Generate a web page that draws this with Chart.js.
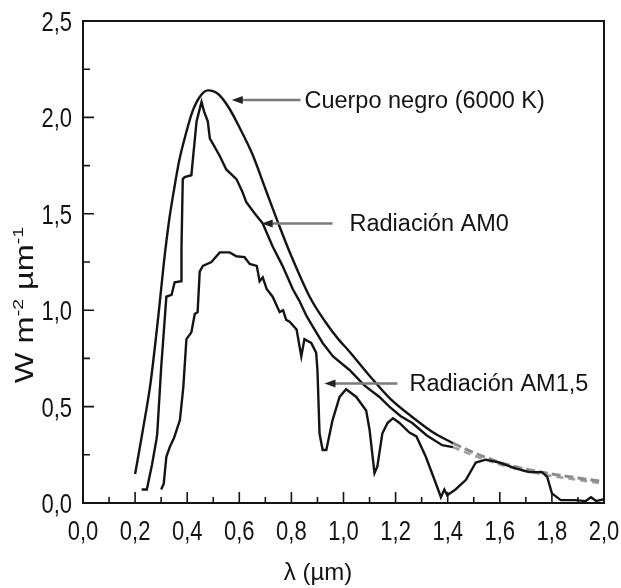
<!DOCTYPE html>
<html>
<head>
<meta charset="utf-8">
<script src="https://cdn.jsdelivr.net/npm/chart.js@4.4.0/dist/chart.umd.min.js"></script>
<style>
  html, body { margin: 0; padding: 0; background: #fff; }
  #wrap { width: 621px; height: 588px; }
</style>
</head>
<body>
<div id="wrap"><canvas id="spectrum"></canvas></div>
<script>
// cuerpo negro 6000 K (tramo continuo)
var bbX = [0.20, 0.23, 0.26, 0.29, 0.31, 0.33, 0.35, 0.37, 0.39, 0.42, 0.45, 0.48, 0.52, 0.56, 0.60, 0.65, 0.70, 0.75, 0.80, 0.87, 0.93, 0.98, 1.02, 1.10, 1.18, 1.26, 1.34, 1.42];
var bbY = [0.15, 0.38, 0.63, 0.98, 1.24, 1.46, 1.63, 1.78, 1.89, 2.03, 2.11, 2.14, 2.12, 2.05, 1.95, 1.81, 1.63, 1.45, 1.28, 1.07, 0.94, 0.85, 0.79, 0.66, 0.54, 0.45, 0.37, 0.31];
// tramo gris discontinuo
var tailX = [1.42, 1.50, 1.60, 1.70, 1.80, 1.90, 2.00];
var tailBB = [0.31, 0.26, 0.21, 0.175, 0.15, 0.13, 0.11];
var tailAM0 = [0.29, 0.245, 0.20, 0.165, 0.14, 0.12, 0.10];

// radiacion AM0
var am0X = [0.225, 0.245, 0.265, 0.282, 0.285, 0.30, 0.32, 0.34, 0.352, 0.378, 0.378, 0.383, 0.39, 0.416, 0.436, 0.455, 0.465, 0.479, 0.487, 0.50, 0.525, 0.55, 0.589, 0.61, 0.627, 0.66, 0.69, 0.728, 0.766, 0.805, 0.83, 0.858, 0.88, 0.92, 0.96, 1.023, 1.08, 1.138, 1.176, 1.22, 1.264, 1.32, 1.379, 1.42];
var am0Y = [0.07, 0.07, 0.20, 0.33, 0.36, 0.70, 1.07, 1.08, 1.145, 1.15, 1.32, 1.68, 1.69, 1.70, 1.98, 2.08, 2.03, 1.98, 1.89, 1.86, 1.80, 1.73, 1.68, 1.62, 1.56, 1.50, 1.45, 1.33, 1.23, 1.11, 1.05, 0.97, 0.92, 0.83, 0.76, 0.69, 0.61, 0.55, 0.50, 0.45, 0.415, 0.35, 0.30, 0.29];

// radiacion AM1,5
var am15X = [0.30, 0.31, 0.32, 0.333, 0.35, 0.372, 0.385, 0.397, 0.416, 0.429, 0.44, 0.448, 0.46, 0.493, 0.525, 0.563, 0.589, 0.62, 0.64, 0.667, 0.678, 0.69, 0.705, 0.728, 0.755, 0.768, 0.78, 0.793, 0.82, 0.838, 0.85, 0.876, 0.895, 0.90, 0.908, 0.92, 0.934, 0.958, 0.985, 1.01, 1.049, 1.087, 1.10, 1.119, 1.13, 1.149, 1.169, 1.19, 1.215, 1.253, 1.28, 1.316, 1.355, 1.374, 1.387, 1.398, 1.43, 1.47, 1.508, 1.546, 1.598, 1.66, 1.713, 1.762, 1.782, 1.80, 1.834, 1.89, 1.93, 1.95, 1.97, 2.00];
var am15Y = [0.07, 0.10, 0.24, 0.29, 0.34, 0.43, 0.60, 0.85, 0.885, 0.98, 0.99, 1.20, 1.23, 1.25, 1.30, 1.30, 1.28, 1.275, 1.24, 1.23, 1.15, 1.17, 1.11, 1.07, 0.99, 1.00, 0.95, 0.94, 0.90, 0.76, 0.85, 0.83, 0.78, 0.69, 0.36, 0.275, 0.275, 0.43, 0.55, 0.59, 0.55, 0.48, 0.38, 0.155, 0.19, 0.36, 0.415, 0.44, 0.415, 0.365, 0.345, 0.24, 0.10, 0.03, 0.07, 0.04, 0.07, 0.12, 0.21, 0.225, 0.21, 0.18, 0.16, 0.16, 0.135, 0.05, 0.015, 0.015, 0.01, 0.03, 0.01, 0.02];

// etiquetas con flecha
var noteText = ['Cuerpo negro (6000 K)', 'Radiación AM0', 'Radiación AM1,5'];
var noteTipX = [0.571, 0.686, 0.927];
var noteLineEndX = [0.835, 0.958, 1.207];
var noteTextX = [0.85, 1.023, 1.253];
var noteY = [2.09, 1.45, 0.62];

function pairs(xs, ys) {
  return xs.map(function(x, i) { return { x: x, y: ys[i] }; });
}
function comma(v) {
  return Number(v).toFixed(1).replace('.', ',');
}

var ink = '#141414';

var framePlugin = {
  id: 'frame',
  afterDraw: function(chart) {
    var ctx = chart.ctx, a = chart.chartArea;
    var sx = chart.scales.x, sy = chart.scales.y;
    ctx.save();
    ctx.strokeStyle = ink;
    ctx.lineWidth = 2;
    ctx.strokeRect(a.left, a.top, a.right - a.left, a.bottom - a.top);
    // ticks hacia dentro
    ctx.lineWidth = 1.6;
    ctx.beginPath();
    for (var i = 1; i < 20; i++) {
      var px = sx.getPixelForValue(i / 10);
      var len = (i % 2 === 0) ? 11 : 6;
      ctx.moveTo(px, a.bottom);
      ctx.lineTo(px, a.bottom - len);
    }
    for (var j = 1; j < 10; j++) {
      var py = sy.getPixelForValue(j / 4);
      var l2 = (j % 2 === 0) ? 11 : 7;
      ctx.moveTo(a.left, py);
      ctx.lineTo(a.left + l2, py);
    }
    ctx.stroke();

    // etiquetas de los ejes (estiradas en vertical como el original)
    ctx.fillStyle = ink;
    ctx.font = '22px "Liberation Sans", Arial, sans-serif';
    ctx.textAlign = 'center';
    ctx.textBaseline = 'alphabetic';
    sx.ticks.forEach(function(t) {
      var px = sx.getPixelForValue(t.value);
      ctx.save();
      ctx.translate(px, 540);
      ctx.scale(1, 1.28);
      ctx.fillText(comma(t.value), 0, 0);
      ctx.restore();
    });
    ctx.textAlign = 'right';
    sy.ticks.forEach(function(t) {
      var py = sy.getPixelForValue(t.value);
      ctx.save();
      ctx.translate(72, py + 10);
      ctx.scale(1, 1.28);
      ctx.fillText(comma(t.value), 0, 0);
      ctx.restore();
    });

    // titulo eje y con superindices
    var parts = [['W m', 25, 0], ['-2', 15, -10], [' \u00b5m', 25, 0], ['-1', 15, -10]];
    var total = 0;
    parts.forEach(function(p) {
      ctx.font = p[1] + 'px "Liberation Sans", Arial, sans-serif';
      p.push(ctx.measureText(p[0]).width);
      total += p[3];
    });
    ctx.save();
    ctx.translate(33, 305);
    ctx.rotate(-Math.PI / 2);
    ctx.scale(1.3, 1);
    ctx.textAlign = 'left';
    var cx = -total / 2;
    parts.forEach(function(p) {
      ctx.font = p[1] + 'px "Liberation Sans", Arial, sans-serif';
      ctx.fillText(p[0], cx, p[2]);
      cx += p[3];
    });
    ctx.restore();

    // titulo eje x
    ctx.font = '24px "Liberation Sans", Arial, sans-serif';
    ctx.textAlign = 'center';
    ctx.textBaseline = 'middle';
    ctx.fillText('\u03bb (\u00b5m)', 318, 573);

    // flechas y textos
    for (var k = 0; k < noteText.length; k++) {
      var y = sy.getPixelForValue(noteY[k]);
      var tip = sx.getPixelForValue(noteTipX[k]);
      var end = sx.getPixelForValue(noteLineEndX[k]);
      ctx.strokeStyle = '#7a7a7a';
      ctx.lineWidth = 2.5;
      ctx.beginPath();
      ctx.moveTo(tip + 8, y);
      ctx.lineTo(end, y);
      ctx.stroke();
      ctx.fillStyle = '#222';
      ctx.beginPath();
      ctx.moveTo(tip, y);
      ctx.lineTo(tip + 11, y - 4);
      ctx.lineTo(tip + 11, y + 4);
      ctx.closePath();
      ctx.fill();
      ctx.fillStyle = ink;
      ctx.font = '23.5px "Liberation Sans", Arial, sans-serif';
      ctx.textAlign = 'left';
      ctx.textBaseline = 'middle';
      ctx.fillText(noteText[k], sx.getPixelForValue(noteTextX[k]), y + 1);
    }
    ctx.restore();
  }
};

var lineStyle = { borderColor: ink, borderWidth: 2.4, pointRadius: 0, tension: 0, fill: false };

new Chart(document.getElementById('spectrum'), {
  type: 'line',
  data: {
    datasets: [
      Object.assign({ label: 'Cuerpo negro (6000 K)', data: pairs(bbX, bbY) }, lineStyle, { cubicInterpolationMode: 'monotone' }),
      Object.assign({ label: 'Radiación AM0', data: pairs(am0X, am0Y) }, lineStyle),
      Object.assign({ label: 'Radiación AM1,5', data: pairs(am15X, am15Y) }, lineStyle),
      { label: 'cola CN', data: pairs(tailX, tailBB), borderColor: '#8c8c8c', borderWidth: 3, borderDash: [9, 4], pointRadius: 0, fill: false },
      { label: 'cola AM0', data: pairs(tailX, tailAM0), borderColor: '#a0a0a0', borderWidth: 2.5, borderDash: [7, 5], pointRadius: 0, fill: false }
    ]
  },
  options: {
    responsive: true,
    maintainAspectRatio: false,
    animation: false,
    layout: { padding: { top: 21, right: 17, left: 0, bottom: 0 } },
    plugins: { legend: { display: false }, tooltip: { enabled: false } },
    scales: {
      x: {
        type: 'linear', min: 0, max: 2,
        ticks: { stepSize: 0.2, display: false },
        grid: { display: false, drawTicks: false },
        border: { display: false },
        afterFit: function(s) { s.height = 85; }
      },
      y: {
        min: 0, max: 2.5,
        ticks: { stepSize: 0.5, display: false },
        grid: { display: false, drawTicks: false },
        border: { display: false },
        afterFit: function(s) { s.width = 83; }
      }
    }
  },
  plugins: [framePlugin]
});
</script>
</body>
</html>
